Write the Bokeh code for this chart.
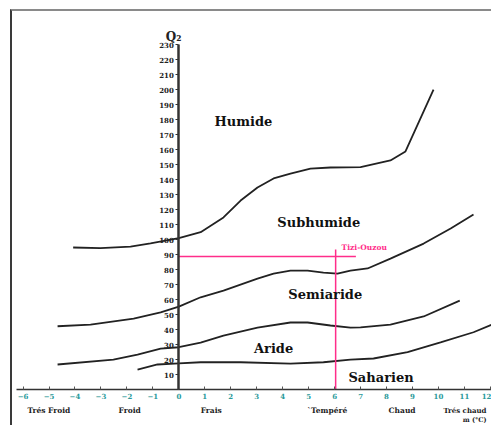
from bokeh.plotting import figure
from bokeh.models import FixedTicker
from bokeh.core.properties import value
from bokeh.embed import file_html
from bokeh.resources import INLINE

# ---- data (m in °C, Q2) ----
humide_m = [-4.07, -3.02, -1.86, -1.09, 0.0, 0.84, 1.72, 2.38, 3.03, 3.65, 4.30, 5.07, 5.84, 7.00, 8.15, 8.73, 9.81]
humide_q = [94.7, 94.3, 95.3, 97.5, 100.9, 104.9, 114.7, 126.0, 134.7, 140.7, 144.0, 147.3, 148.0, 148.2, 152.7, 158.7, 200.0]

subhum_m = [-4.67, -3.40, -1.74, -0.70, 0.0, 0.84, 1.72, 3.03, 3.65, 4.30, 4.96, 5.57, 6.11, 6.61, 7.27, 8.15, 9.43, 10.47, 11.35]
subhum_q = [42.2, 43.3, 47.3, 51.5, 55.3, 61.5, 66.0, 74.0, 77.3, 79.3, 79.3, 78.0, 77.3, 79.3, 80.7, 87.3, 97.3, 107.3, 116.7]

semi_m = [-4.67, -2.52, -1.59, -0.70, 0.0, 0.84, 1.72, 3.03, 4.30, 4.96, 5.84, 6.61, 7.00, 8.15, 9.43, 10.82]
semi_q = [16.7, 20.0, 23.3, 27.3, 28.2, 31.3, 36.0, 41.3, 44.7, 44.7, 42.7, 41.3, 41.5, 43.3, 48.7, 59.3]

aride_m = [-1.59, -0.82, 0.0, 0.84, 2.38, 4.30, 5.57, 6.61, 7.50, 8.81, 10.08, 11.35, 12.16]
aride_q = [13.3, 16.7, 17.5, 18.2, 18.2, 17.3, 18.2, 20.0, 20.7, 24.9, 31.5, 38.2, 44.0]

station_name = "Tizi-Ouzou"
station_m = 6.04
station_q2 = 88.7

zones = ["Humide", "Subhumide", "Semiaride", "Aride", "Saharien"]
zone_m = [2.49, 5.39, 5.64, 3.65, 7.79]
zone_q = [178.5, 111.4, 63.4, 27.5, 8.0]

x_ticks = list(range(-6, 13))
y_ticks = list(range(10, 240, 10))

classes = ["Trés  Froid", "Froid", "Frais", "`Tempéré", "Chaud"]
class_m = [-5.83, -2.32, 0.84, 4.95, 8.08]
last_class = "Trés chaud"
unit_label = "m (°C)"

# ---- figure ----
p = figure(width=481, height=416, x_range=(-6.406, 12.12), y_range=(-25.3, 252.0),
           output_backend="svg", toolbar_location=None, min_border=0)
p.styles = {"border-left": "2px solid #3a3a3a", "border-top": "2px solid #8a8a8a",
            "margin-left": "10px", "margin-top": "9px"}
p.outline_line_color = None
p.xgrid.visible = False
p.ygrid.visible = False
p.background_fill_color = "white"
p.border_fill_color = "white"

xa = p.xaxis[0]
xa.fixed_location = 0
xa.bounds = (-6.25, 12.2)
xa.ticker = FixedTicker(ticks=x_ticks)
xa.major_tick_in = 3
xa.major_tick_out = 0
xa.minor_tick_line_color = None
xa.axis_line_color = "#333333"
xa.axis_line_width = 1.5
xa.major_tick_line_color = "#555555"
xa.major_label_text_color = "#2a9a9a"
xa.major_label_text_font = "DejaVu Serif"
xa.major_label_text_font_style = "bold"
xa.major_label_text_font_size = "7px"
xa.major_label_standoff = 3

ya = p.yaxis[0]
ya.fixed_location = 0
ya.bounds = (0, 230)
ya.ticker = FixedTicker(ticks=y_ticks)
ya.major_tick_in = 0
ya.major_tick_out = 3
ya.minor_tick_line_color = None
ya.axis_line_color = "#333333"
ya.axis_line_width = 2.5
ya.major_tick_line_color = "#333333"
ya.major_label_text_color = "#222222"
ya.major_label_text_font = "DejaVu Serif"
ya.major_label_text_font_style = "bold"
ya.major_label_text_font_size = "7px"
ya.major_label_standoff = 2

# ---- curves ----
for xs, ys in [(humide_m, humide_q), (subhum_m, subhum_q), (semi_m, semi_q), (aride_m, aride_q)]:
    p.line(xs, ys, line_color="#222222", line_width=1.8)

# ---- station ----
pink = "#ff2d8a"
p.segment(x0=[0, station_m], y0=[station_q2, 0],
          x1=[station_m + 0.78, station_m], y1=[station_q2, station_q2 + 4.6],
          line_color=pink, line_width=1.5)
p.text(x=[station_m + 0.23], y=[station_q2 + 6], text=[station_name],
       text_font=value("DejaVu Serif"), text_font_style="bold", text_font_size="7.5px",
       text_color=pink, text_align="left", text_baseline="middle")

# ---- zone labels ----
p.text(x=zone_m, y=zone_q, text=zones, text_font=value("DejaVu Serif"),
       text_font_style="bold", text_font_size="13px", text_color="#111111",
       text_align="center", text_baseline="middle")

# ---- thermal classes ----
p.text(x=class_m, y=[-14] * len(class_m), text=classes, text_font=value("DejaVu Serif"),
       text_font_style="bold", text_font_size="7.5px", text_color="#222222",
       text_align="left", text_baseline="middle")
p.text(x=[11.85], y=[-14], text=[last_class], text_font=value("DejaVu Serif"),
       text_font_style="bold", text_font_size="7px", text_color="#222222",
       text_align="right", text_baseline="middle")
p.text(x=[11.85], y=[-20.5], text=[unit_label], text_font=value("DejaVu Serif"),
       text_font_style="bold", text_font_size="6.5px", text_color="#222222",
       text_align="right", text_baseline="middle")

# ---- axis title ----
p.text(x=[-0.2], y=[234.7], text=["Q₂"], text_font=value("DejaVu Serif"),
       text_font_style="bold", text_font_size="12px", text_color="#222222",
       text_align="center", text_baseline="middle")

open("out.html", "w").write(file_html(p, INLINE))
